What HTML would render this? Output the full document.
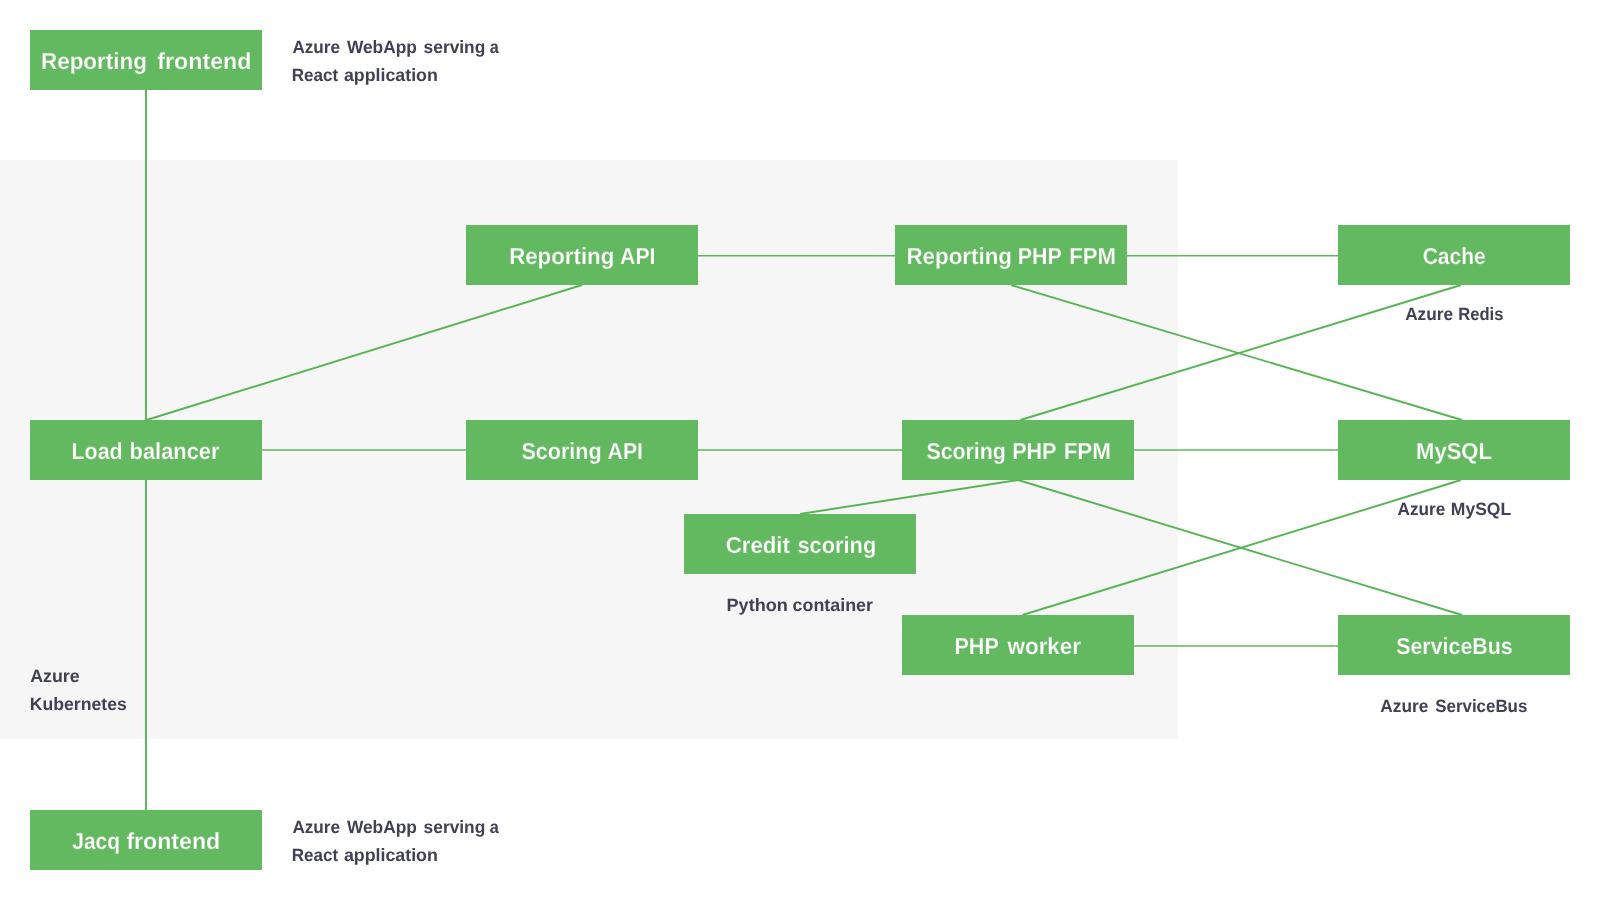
<!DOCTYPE html>
<html lang="en">
<head>
<meta charset="utf-8">
<title>Architecture diagram</title>
<style>
html,body{margin:0;padding:0;background:#fff;}
body{width:1600px;height:900px;overflow:hidden;font-family:"Liberation Sans",sans-serif;}
svg{display:block;will-change:transform;}
text{font-family:"Liberation Sans",sans-serif;font-weight:bold;text-rendering:geometricPrecision;}
.lbl text{font-size:23.1px;fill:#fff;stroke:#62B95F;stroke-width:0.2px;paint-order:fill stroke;}
.ann text{font-size:17.8px;fill:#404154;}
.ln{stroke:#5DB75A;stroke-width:1.5;fill:none;}
.vl{stroke:#5DB75A;stroke-width:2;fill:none;}
.dg{stroke:#57B454;stroke-width:1.9;fill:none;}
.bx rect{fill:#62B95F;}
</style>
</head>
<body>
<svg width="1600" height="900" viewBox="0 0 1600 900">
<rect x="0" y="0" width="1600" height="900" fill="#ffffff"/>
<rect x="0" y="160" width="1178" height="579" fill="#F6F6F6"/>
<g>
<line class="vl" x1="146" y1="90" x2="146" y2="420"/>
<line class="vl" x1="146" y1="480" x2="146" y2="810"/>
<line class="dg" x1="146.5" y1="420" x2="582" y2="285"/>
<line class="ln" x1="698" y1="255.8" x2="895" y2="255.8"/>
<line class="ln" x1="1127" y1="255.8" x2="1338" y2="255.8"/>
<line class="dg" x1="1011" y1="285" x2="1462" y2="420"/>
<line class="dg" x1="1461" y1="285" x2="1020.5" y2="420"/>
<line class="ln" x1="262" y1="450" x2="466" y2="450"/>
<line class="ln" x1="698" y1="450" x2="902" y2="450"/>
<line class="ln" x1="1134" y1="450" x2="1338" y2="450"/>
<line class="dg" x1="1018" y1="480" x2="800" y2="514"/>
<line class="dg" x1="1018" y1="480" x2="1462" y2="615"/>
<line class="dg" x1="1461" y1="480" x2="1022.5" y2="615"/>
<line class="ln" x1="1134" y1="646" x2="1338" y2="646"/>
</g>
<g class="bx">
<rect x="30" y="30" width="232" height="60"/>
<rect x="466" y="225" width="232" height="60"/>
<rect x="895" y="225" width="232" height="60"/>
<rect x="1338" y="225" width="232" height="60"/>
<rect x="30" y="420" width="232" height="60"/>
<rect x="466" y="420" width="232" height="60"/>
<rect x="902" y="420" width="232" height="60"/>
<rect x="1338" y="420" width="232" height="60"/>
<rect x="684" y="514" width="232" height="60"/>
<rect x="902" y="615" width="232" height="60"/>
<rect x="1338" y="615" width="232" height="60"/>
<rect x="30" y="810" width="232" height="60"/>
</g>
<g class="lbl">
<text x="40.93" y="69" textLength="106.05" lengthAdjust="spacingAndGlyphs">Reporting</text>
<text x="157.30" y="69" textLength="94.21" lengthAdjust="spacingAndGlyphs">frontend</text>
<text x="509.13" y="264" textLength="105.23" lengthAdjust="spacingAndGlyphs">Reporting</text>
<text x="620.10" y="264" textLength="35.40" lengthAdjust="spacingAndGlyphs">API</text>
<text x="906.43" y="264" textLength="105.54" lengthAdjust="spacingAndGlyphs">Reporting</text>
<text x="1017.67" y="264" textLength="44.00" lengthAdjust="spacingAndGlyphs">PHP</text>
<text x="1069.24" y="264" textLength="46.85" lengthAdjust="spacingAndGlyphs">FPM</text>
<text x="1422.70" y="264" textLength="63.06" lengthAdjust="spacingAndGlyphs">Cache</text>
<text x="71.57" y="459" textLength="51.05" lengthAdjust="spacingAndGlyphs">Load</text>
<text x="129.55" y="459" textLength="89.93" lengthAdjust="spacingAndGlyphs">balancer</text>
<text x="521.50" y="459" textLength="80.13" lengthAdjust="spacingAndGlyphs">Scoring</text>
<text x="607.60" y="459" textLength="35.30" lengthAdjust="spacingAndGlyphs">API</text>
<text x="926.40" y="459" textLength="79.52" lengthAdjust="spacingAndGlyphs">Scoring</text>
<text x="1012.17" y="459" textLength="44.31" lengthAdjust="spacingAndGlyphs">PHP</text>
<text x="1063.63" y="459" textLength="47.27" lengthAdjust="spacingAndGlyphs">FPM</text>
<text x="1416.05" y="459" textLength="75.86" lengthAdjust="spacingAndGlyphs">MySQL</text>
<text x="725.70" y="553" textLength="64.20" lengthAdjust="spacingAndGlyphs">Credit</text>
<text x="797.50" y="553" textLength="78.74" lengthAdjust="spacingAndGlyphs">scoring</text>
<text x="954.47" y="654" textLength="44.31" lengthAdjust="spacingAndGlyphs">PHP</text>
<text x="1007.57" y="654" textLength="73.42" lengthAdjust="spacingAndGlyphs">worker</text>
<text x="1396.20" y="654" textLength="116.58" lengthAdjust="spacingAndGlyphs">ServiceBus</text>
<text x="72.30" y="849" textLength="47.80" lengthAdjust="spacingAndGlyphs">Jacq</text>
<text x="126.40" y="849" textLength="93.81" lengthAdjust="spacingAndGlyphs">frontend</text>
</g>
<g class="ann">
<text x="292.40" y="53.0" textLength="47.69" lengthAdjust="spacingAndGlyphs">Azure</text>
<text x="346.90" y="53.0" textLength="70.06" lengthAdjust="spacingAndGlyphs">WebApp</text>
<text x="423.60" y="53.0" textLength="61.74" lengthAdjust="spacingAndGlyphs">serving</text>
<text x="489.70" y="53.0" textLength="9.00" lengthAdjust="spacingAndGlyphs">a</text>
<text x="291.74" y="81.0" textLength="46.38" lengthAdjust="spacingAndGlyphs">React</text>
<text x="343.90" y="81.0" textLength="93.96" lengthAdjust="spacingAndGlyphs">application</text>
<text x="292.40" y="833.1" textLength="47.69" lengthAdjust="spacingAndGlyphs">Azure</text>
<text x="346.90" y="833.1" textLength="70.06" lengthAdjust="spacingAndGlyphs">WebApp</text>
<text x="423.60" y="833.1" textLength="61.74" lengthAdjust="spacingAndGlyphs">serving</text>
<text x="489.70" y="833.1" textLength="9.00" lengthAdjust="spacingAndGlyphs">a</text>
<text x="291.74" y="860.9" textLength="46.38" lengthAdjust="spacingAndGlyphs">React</text>
<text x="343.90" y="860.9" textLength="93.96" lengthAdjust="spacingAndGlyphs">application</text>
<text x="30.20" y="682.2" textLength="49.49" lengthAdjust="spacingAndGlyphs">Azure</text>
<text x="29.71" y="709.9" textLength="97.08" lengthAdjust="spacingAndGlyphs">Kubernetes</text>
<text x="1405.20" y="320.3" textLength="47.79" lengthAdjust="spacingAndGlyphs">Azure</text>
<text x="1458.37" y="320.3" textLength="45.03" lengthAdjust="spacingAndGlyphs">Redis</text>
<text x="1397.50" y="515.3" textLength="47.69" lengthAdjust="spacingAndGlyphs">Azure</text>
<text x="1450.81" y="515.3" textLength="60.35" lengthAdjust="spacingAndGlyphs">MySQL</text>
<text x="726.58" y="610.5" textLength="61.19" lengthAdjust="spacingAndGlyphs">Python</text>
<text x="792.60" y="610.5" textLength="80.42" lengthAdjust="spacingAndGlyphs">container</text>
<text x="1380.30" y="711.5" textLength="47.99" lengthAdjust="spacingAndGlyphs">Azure</text>
<text x="1435.20" y="711.5" textLength="92.19" lengthAdjust="spacingAndGlyphs">ServiceBus</text>
</g>
</svg>
</body>
</html>
